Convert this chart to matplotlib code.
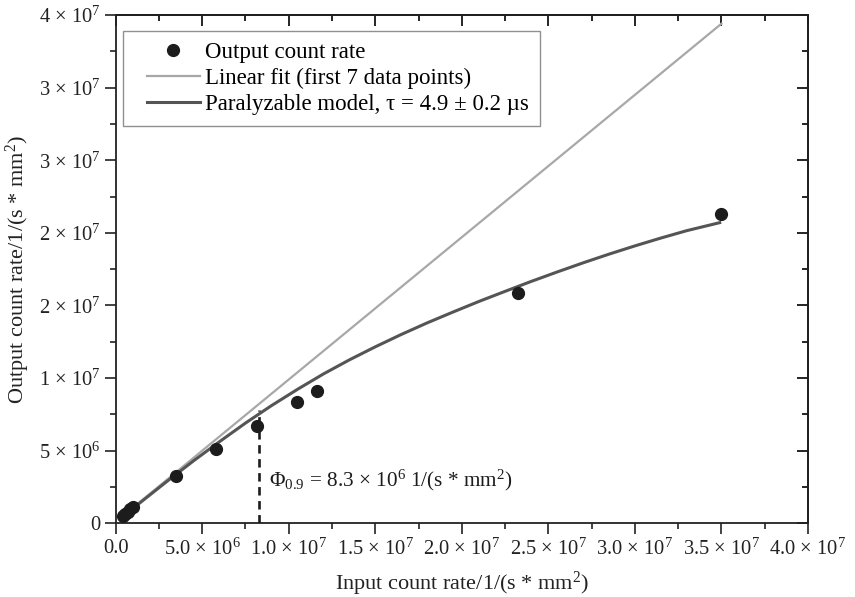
import numpy as np
import matplotlib.pyplot as plt
from matplotlib.lines import Line2D
from matplotlib.legend_handler import HandlerLine2D

plt.rcParams['font.family'] = ['Liberation Serif', 'DejaVu Serif']
plt.rcParams['mathtext.fontset'] = 'custom'
plt.rcParams['mathtext.rm'] = 'Liberation Serif'
plt.rcParams['mathtext.it'] = 'Liberation Serif:italic'

# measured output vs input count rate, 1/(s*mm^2)
input_rate = np.array([0.42e6, 0.56e6, 0.70e6, 0.85e6, 1.0e6, 3.49e6, 5.8e6,
                       8.15e6, 1.046e7, 1.165e7, 2.327e7, 3.499e7])
output_rate = np.array([0.50e6, 0.62e6, 0.78e6, 0.95e6, 1.12e6, 3.25e6, 5.09e6,
                        6.71e6, 8.32e6, 9.12e6, 1.586e7, 2.132e7])

# linear fit through the first 7 points
fit_x = np.array([0.4e6, 3.5e7])
fit_y = np.array([0.49e6, 3.44e7])

# paralyzable dead-time model curve
model_x = np.array([0.4, 1.5, 3, 4.5, 6, 7.5, 9, 10.5, 12, 13.5, 15, 16.5, 18, 19.5,
                    21, 22.5, 24, 25.5, 27, 28.5, 30, 31.5, 33, 34.9]) * 1e6
model_y = np.array([0.45, 1.5, 2.92, 4.3, 5.62, 6.9, 8.1, 9.22, 10.28, 11.25, 12.15,
                    13.0, 13.8, 14.55, 15.28, 15.97, 16.65, 17.3, 17.93, 18.53, 19.1,
                    19.64, 20.15, 20.7]) * 1e6

phi_09 = 8.3e6
phi_09_top = 7.8e6

x_ticks = [0, 5e6, 1e7, 1.5e7, 2e7, 2.5e7, 3e7, 3.5e7, 4e7]
x_tick_labels = ['0.0', '5.0 × 10$^{6}$', '1.0 × 10$^{7}$', '1.5 × 10$^{7}$',
                 '2.0 × 10$^{7}$', '2.5 × 10$^{7}$', '3.0 × 10$^{7}$',
                 '3.5 × 10$^{7}$', '4.0 × 10$^{7}$']
y_ticks = [0, 5e6, 1e7, 1.5e7, 2e7, 2.5e7, 3e7, 3.5e7]
y_tick_labels = ['0', '5 × 10$^{6}$', '1 × 10$^{7}$', '2 × 10$^{7}$',
                 '2 × 10$^{7}$', '3 × 10$^{7}$', '3 × 10$^{7}$', '4 × 10$^{7}$']


class LeadHandler(HandlerLine2D):
    """Line handler that leaves a blank lead-in before the sample line."""
    def __init__(self, lead, **kw):
        super().__init__(**kw)
        self.lead = lead

    def get_xdata(self, legend, xdescent, ydescent, width, height, fontsize):
        x0 = -xdescent + self.lead
        x1 = -xdescent + width
        return [x0, x1], [0.5 * (x0 + x1)]


fig = plt.figure(figsize=(8.55, 5.97), dpi=100)
ax = fig.add_axes([0.1353, 0.1235, 0.8097, 0.8514])

ax.plot(fit_x, fit_y, color='#a8a8a8', lw=1.6, label='Linear fit (first 7 data points)', zorder=2)
ax.plot(model_x, model_y, color='#555555', lw=2.2,
        label='Paralyzable model, τ = 4.9 ± 0.2 µs', zorder=3)
ax.plot(input_rate, output_rate, 'o', color='#1c1c1c', ms=8.5, label='Output count rate', zorder=4)

ax.plot([phi_09, phi_09], [0, phi_09_top], color='#1c1c1c', lw=1.9, ls=(0, (3.2, 2.1)), zorder=3)
ax.text(phi_09 + 0.55e6, 2.95e6, r'Φ$_{0.9}$ = 8.3 × 10$^{6}$ 1/(s * mm$^{2}$)',
        fontsize=15.3, va='center', ha='left', color='#1c1c1c')

ax.set_xlim(0, 4e7)
ax.set_ylim(0, 3.5e7)
ax.set_xticks(x_ticks)
ax.set_xticklabels(x_tick_labels, fontsize=14.8)
ax.set_yticks(y_ticks)
ax.set_yticklabels(y_tick_labels, fontsize=14.8)
ax.set_xticks(np.arange(2.5e6, 4e7, 5e6), minor=True)
ax.set_yticks(np.arange(2.5e6, 3.5e7, 5e6), minor=True)
ax.tick_params(which='major', direction='out', length=8, width=1.2, colors='#222222')
ax.tick_params(which='minor', direction='out', length=4, width=1.2, colors='#222222')
ax.tick_params(labelcolor='#222222', pad=3)

# mirrored ticks on top and right, pointing inward
top = ax.secondary_xaxis('top')
top.set_xticks(x_ticks)
top.set_xticks(np.arange(2.5e6, 4e7, 5e6), minor=True)
top.tick_params(which='major', direction='in', length=8, width=1.2, labeltop=False)
top.tick_params(which='minor', direction='in', length=4, width=1.2)
right = ax.secondary_yaxis('right')
right.set_yticks(y_ticks)
right.set_yticks(np.arange(2.5e6, 3.5e7, 5e6), minor=True)
right.tick_params(which='major', direction='in', length=8, width=1.2, labelright=False)
right.tick_params(which='minor', direction='in', length=4, width=1.2)

for sp in ax.spines.values():
    sp.set_linewidth(1.3)
    sp.set_color('#222222')
top.spines['top'].set_linewidth(1.3)
right.spines['right'].set_linewidth(1.3)

ax.set_xlabel('Input count rate/1/(s * mm$^{2}$)', fontsize=16, labelpad=7, color='#222222')
ax.set_ylabel('Output count rate/1/(s * mm$^{2}$)', fontsize=16, labelpad=5, color='#222222')

handles, labels = ax.get_legend_handles_labels()
order = [2, 0, 1]
leg = ax.legend([handles[i] for i in order], [labels[i] for i in order],
                loc='upper left', bbox_to_anchor=(0.011, 0.9685), fontsize=16.5,
                fancybox=False, edgecolor='#909090', framealpha=1,
                handlelength=2.88, handletextpad=0.22, borderpad=0.47, labelspacing=0.22,
                borderaxespad=0, handler_map={Line2D: LeadHandler(lead=9.0)})
leg.get_frame().set_linewidth(1.0)

fig.savefig('out.png', dpi=100)
